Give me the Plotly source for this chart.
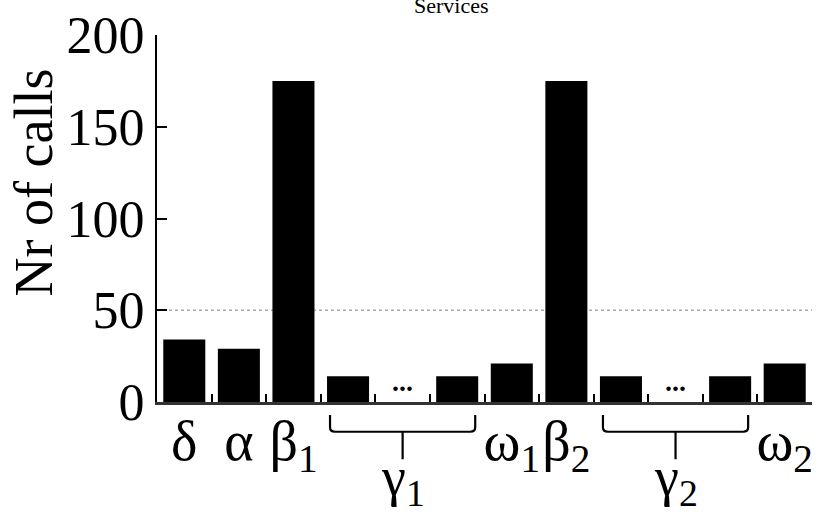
import plotly.graph_objects as go

# ---- data ----
positions = list(range(12))
values = [34, 29, 175, 14, 0, 14, 21, 175, 14, 0, 14, 21]
tick_labels = ["δ", "α", "β<sub>1</sub>", "", "", "", "ω<sub>1</sub>",
               "β<sub>2</sub>", "", "", "", "ω<sub>2</sub>"]
dots_positions = [4, 9]
group_labels = ["γ<sub>1</sub>", "γ<sub>2</sub>"]
group_spans = [(3, 5), (8, 10)]
y_ticks = [0, 50, 100, 150, 200]
ref_line = 50

FONT = "Liberation Serif"

fig = go.Figure()
fig.add_trace(go.Bar(
    x=positions, y=values, width=0.77,
    marker=dict(color="black", line=dict(width=0)),
    showlegend=False, hoverinfo="skip",
))

# dots for omitted services
for p in dots_positions:
    fig.add_annotation(x=p, y=11, xref="x", yref="y", text="<b>...</b>",
                       showarrow=False, font=dict(family=FONT, size=28, color="black"),
                       xanchor="center", yanchor="middle")

# dotted reference line
fig.add_shape(type="line", xref="paper", yref="y", x0=0, x1=1, y0=ref_line, y1=ref_line,
              line=dict(color="#aaaaaa", width=1.5, dash="dot"), layer="below")

# braces under the groups
y_top, y_mid, y_bot = -0.0355, -0.081, -0.156
for (a, b), lab in zip(group_spans, group_labels):
    x0 = a - 0.33
    x1 = b + 0.33
    c = (a + b) / 2
    path = (f"M {x0},{y_top} L {x0},{y_mid + 0.012} Q {x0},{y_mid} {x0 + 0.09},{y_mid} "
            f"L {x1 - 0.09},{y_mid} Q {x1},{y_mid} {x1},{y_mid + 0.012} L {x1},{y_top} "
            f"M {c},{y_mid} L {c},{y_bot}")
    fig.add_shape(type="path", xref="x", yref="paper", path=path,
                  line=dict(color="black", width=2.2))
    fig.add_annotation(x=c, y=-0.215, xref="x", yref="paper", text=lab, showarrow=False,
                       font=dict(family=FONT, size=54, color="black"),
                       xanchor="center", yanchor="middle")

# title and y-axis title
fig.add_annotation(x=0.45, y=1.04, xref="paper", yref="paper", text="Services",
                   showarrow=False, font=dict(family=FONT, size=22, color="black"),
                   xanchor="center", yanchor="bottom")
fig.add_annotation(x=-0.188, y=0.598, xref="paper", yref="paper", text="Nr of calls",
                   showarrow=False, textangle=-90, xanchor="center", yanchor="middle",
                   font=dict(family=FONT, size=54, color="black"))

fig.update_layout(
    width=833, height=512,
    margin=dict(l=157, r=21, t=35, b=110, autoexpand=False),
    plot_bgcolor="white", paper_bgcolor="white",
    font=dict(family=FONT, color="black"),
    bargap=0.23,
)
fig.update_xaxes(
    range=[-0.5, 11.5], tickmode="array", tickvals=positions, ticktext=tick_labels,
    ticks="inside", ticklen=0, tickwidth=0, showgrid=False, zeroline=False,
    showline=True, linecolor="#333333", linewidth=3, automargin=False,
    ticklabelstandoff=-12, tickangle=0,
    tickfont=dict(family=FONT, size=56, color="black"),
    minor=dict(ticks="inside", tick0=0.5, dtick=1, ticklen=8, tickwidth=2, tickcolor="black",
               showgrid=False),
)
fig.update_yaxes(
    range=[0, 200], tickmode="array", tickvals=y_ticks,
    ticks="inside", ticklen=10, tickwidth=2, tickcolor="black",
    showgrid=False, zeroline=False, automargin=False,
    showline=True, linecolor="black", linewidth=2,
    tickfont=dict(family=FONT, size=52, color="black"),
)

fig.write_html("out.html", config={"displayModeBar": False},
               post_script="document.body.style.margin='0px';")
